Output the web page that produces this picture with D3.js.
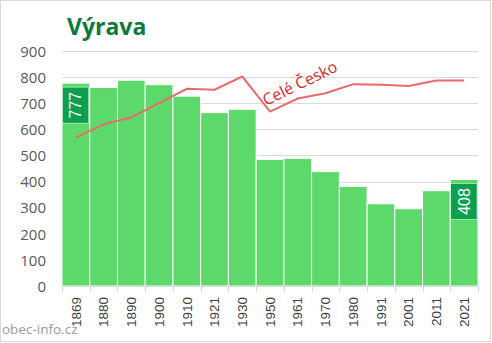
<!DOCTYPE html>
<html><head><meta charset="utf-8">
<script src="https://cdn.jsdelivr.net/npm/d3@7"></script>
<style>body{margin:0;background:#fff}svg{display:block}</style>
</head><body>
<script>
const years = ["1869","1880","1890","1900","1910","1921","1930","1950","1961","1970","1980","1991","2001","2011","2021"];
const population = [777,760,788,771,727,664,677,485,489,438,381,315,296,365,408];
const czechiaScaled = [568,619,646,700,755,752,802,668,718,738,773,771,766,787,787];
const yTicks = [0,100,200,300,400,500,600,700,800,900];
const labelledYears = ["1869","2021"];
const title = "Výrava";
const seriesLabel = "Celé Česko";
const source = "obec-info.cz";

const W = 492, H = 343;
const svg = d3.select("body").append("svg").attr("width", W).attr("height", H);

svg.append("rect").attr("x",0.5).attr("y",0.5).attr("width",W-2).attr("height",H-2)
  .attr("fill","#fff").attr("stroke","#d9d9d9");

const x = d3.scaleBand().domain(years).range([62, 478]).padding(0);
const y = d3.scaleLinear().domain([0, 900]).range([286, 51]);

// gridlines
svg.append("g").selectAll("line").data(yTicks.filter(d=>d>0)).join("line")
  .attr("x1", 62).attr("x2", 478)
  .attr("y1", d => Math.round(y(d))+0.5).attr("y2", d => Math.round(y(d))+0.5)
  .attr("stroke", "#d9d9d9").attr("stroke-width", 1);

// y axis labels
const yAxis = d3.axisLeft(y).tickValues(yTicks).tickSize(0).tickPadding(0);
const gy = svg.append("g").attr("transform","translate(46,0)").call(yAxis);
gy.select(".domain").remove();
gy.selectAll("text").attr("fill","#595959").style("font-family","'Open Sans', sans-serif").style("font-size","15px").attr("dy","0.35em");

// bars
svg.append("g").selectAll("rect").data(years).join("rect")
  .attr("x", d => x(d)).attr("width", x.bandwidth())
  .attr("y", (d,i) => y(population[i])).attr("height", (d,i) => y(0) - y(population[i]))
  .attr("fill", "#5cd96a").attr("stroke","#ffffff").attr("stroke-width",1);

// x axis
const xAxis = d3.axisBottom(x).tickSize(0).tickPadding(0);
const gx = svg.append("g").attr("transform","translate(0,286)").call(xAxis);
gx.select(".domain").attr("stroke","#d9d9d9");
gx.selectAll(".tick text").attr("transform","rotate(-90)").attr("x",-11).attr("y",0)
  .attr("dy","0.35em").attr("text-anchor","end")
  .attr("fill","#404040").style("font-family","'Liberation Sans', Arial, sans-serif").style("font-size","13.5px");
// tick marks at band boundaries
svg.append("g").selectAll("line").data(years.concat(["end"])).join("line")
  .attr("x1", (d,i) => Math.round(i < years.length ? x(d) : x(years[years.length-1]) + x.bandwidth()) + 0.5)
  .attr("x2", (d,i) => Math.round(i < years.length ? x(d) : x(years[years.length-1]) + x.bandwidth()) + 0.5)
  .attr("y1", 286).attr("y2", 292).attr("stroke","#d9d9d9");

// line
const line = d3.line().x((d,i) => x(years[i]) + x.bandwidth()/2).y(d => y(d));
svg.append("path").datum(czechiaScaled).attr("d", line)
  .attr("fill","none").attr("stroke","#ea6a6a").attr("stroke-width",2);

// value boxes
labelledYears.forEach(yr => {
  const i = years.indexOf(yr);
  const bx = x(yr), by = y(population[i]) + 4;
  svg.append("rect").attr("x", bx+0.5).attr("y", by).attr("width", x.bandwidth()-1.5).attr("height", 36)
    .attr("fill","#0aa04e").attr("stroke","#ffffff").attr("stroke-width",0.5);
  svg.append("text").attr("transform", `translate(${bx + x.bandwidth()/2},${by+18}) rotate(-90)`)
    .attr("text-anchor","middle").attr("dy","0.35em").attr("fill","#fff")
    .style("font-family","'Liberation Sans', Arial, sans-serif").style("font-size","16px").text(population[i]);
});

// series label
svg.append("text").attr("transform","translate(266,106) rotate(-26)")
  .attr("fill","#e02828").style("font-family","'Open Sans', sans-serif").style("font-size","16px")
  .text(seriesLabel);

// title
svg.append("text").attr("x",67).attr("y",35).attr("fill","#0b7a3c")
  .style("font-family","'Open Sans', sans-serif").style("font-weight","bold").style("font-size","23px")
  .text(title);

// source
svg.append("text").attr("x",2).attr("y",334).attr("fill","#9a9a9a")
  .style("font-family","'Open Sans', sans-serif").style("font-size","13.5px").text(source);
</script>
</body></html>
